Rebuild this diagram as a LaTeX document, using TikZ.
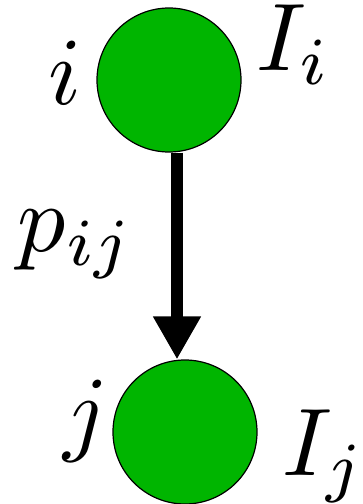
\documentclass[tikz,border=0pt]{standalone}
\usetikzlibrary{arrows.meta}
\definecolor{nodegreen}{RGB}{0,181,0}
\begin{document}
\begin{tikzpicture}[x=0.5pt,y=-0.5pt,
  vertex/.style={circle,draw=black,line width=0.6pt,fill=nodegreen,minimum size=72pt,inner sep=0pt},
  lbl/.style={inner sep=0pt,anchor=base west,scale=4.8},
  arr/.style={line width=6pt,-{Triangle[length=21.5pt,width=22.5pt]}}]
\useasboundingbox (0,0) rectangle (363,504);
\node[vertex] (A) at (169,80) {};
\node[vertex] (B) at (185,432) {};
\coordinate (ar) at (177,0);
\draw[arr] (A.south -| ar) -- (ar |- B.north);
\node[lbl] (li) at (47,104) {$i$};
\node[lbl] (lIi) at (255,70) {$I_i$};
\node[lbl] (lp) at (16,251) {$p_{ij}$};
\node[lbl] (lj) at (62,443) {$j$};
\node[lbl] (lIj) at (281,475) {$I_j$};
\end{tikzpicture}
\end{document}
